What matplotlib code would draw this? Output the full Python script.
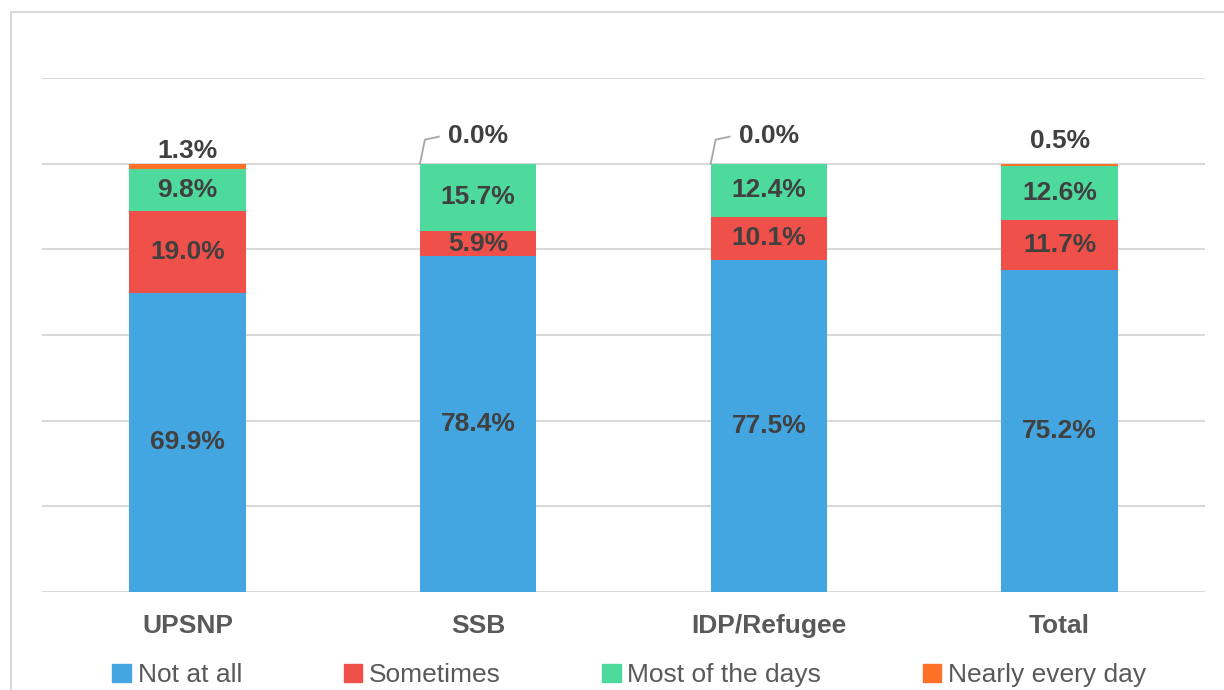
import matplotlib
matplotlib.use("Agg")
import matplotlib.pyplot as plt
from matplotlib.patches import Rectangle
import numpy as np

plt.rcParams['font.family'] = ['Liberation Sans', 'DejaVu Sans']

categories = ["UPSNP", "SSB", "IDP/Refugee", "Total"]
series_names = ["Not at all", "Sometimes", "Most of the days", "Nearly every day"]
not_at_all = [69.9, 78.4, 77.5, 75.2]
sometimes = [19.0, 5.9, 10.1, 11.7]
most_days = [9.8, 15.7, 12.4, 12.6]
nearly_every_day = [1.3, 0.0, 0.0, 0.5]
colors = ["#44A6E0", "#F0504A", "#4DDA9C", "#FF7028"]

series = [not_at_all, sometimes, most_days, nearly_every_day]

fig = plt.figure(figsize=(12.24, 6.9), dpi=100)
# outer chart border
fig.patches.append(Rectangle((11/1224, -0.05), 1.1, (690-12)/690 + 0.05,
                             transform=fig.transFigure, fill=False,
                             edgecolor="#D9D9D9", linewidth=1.5))

ax = fig.add_axes([42/1224, (690-592)/690, (1205-42)/1224, (592-78)/690])
ax.set_ylim(0, 1.2)
x = np.arange(len(categories))
ax.set_xlim(-0.5, len(categories) - 0.5)
for y in np.arange(0.0, 1.21, 0.2):
    ax.axhline(y, color="#D9D9D9", lw=1.5, zorder=0)

bottom = np.zeros(len(categories))
bars = []
for vals, name, c in zip(series, series_names, colors):
    v = np.array(vals) / 100.0
    ax.bar(x, v, 0.4, bottom=bottom, color=c, label=name, zorder=2)
    bars.append((v, bottom.copy()))
    bottom = bottom + v

txt_color = "#404040"
px = 1.2 / (592 - 78)  # data units per pixel
# labels inside first three series
for si in range(3):
    v, btm = bars[si]
    for i in range(len(categories)):
        ax.text(x[i], btm[i] + v[i] / 2, f"{series[si][i]:.1f}%", ha="center",
                va="center", fontsize=19, fontweight="bold", color=txt_color, zorder=3)

# labels for "Nearly every day" above the bars
v, btm = bars[3]
tops = btm + v
for i in range(len(categories)):
    lab = f"{nearly_every_day[i]:.1f}%"
    if nearly_every_day[i] == 0:
        xl = x[i] - 0.2
        ax.plot([xl, xl + 0.017, xl + 0.065],
                [tops[i], tops[i] + 24 * px, tops[i] + 27 * px],
                color="#A6A6A6", lw=1.3, zorder=3, clip_on=False)
        ax.text(x[i], tops[i] + 28 * px, lab, ha="center", va="center", fontsize=19,
                fontweight="bold", color=txt_color, zorder=3)
    else:
        off = 13 * px if nearly_every_day[i] > 1 else 23 * px
        ax.text(x[i], tops[i] + off, lab, ha="center", va="center", fontsize=19,
                fontweight="bold", color=txt_color, zorder=3)

ax.set_xticks(x)
ax.set_xticklabels(categories, fontsize=19, fontweight="bold", color="#595959")
ax.tick_params(axis="x", length=0, pad=16)
ax.set_yticks([])
for s in ax.spines.values():
    s.set_visible(False)

fig.legend(handles=[plt.Rectangle((0, 0), 1, 1, color=c) for c in colors],
           labels=series_names, loc="center", bbox_to_anchor=(0.514, (690 - 675) / 690),
           ncol=4, frameon=False, fontsize=19, handlelength=0.7, handleheight=0.7,
           handletextpad=0.25, columnspacing=3.85, labelcolor="#595959")

fig.savefig("out.png", dpi=100)
